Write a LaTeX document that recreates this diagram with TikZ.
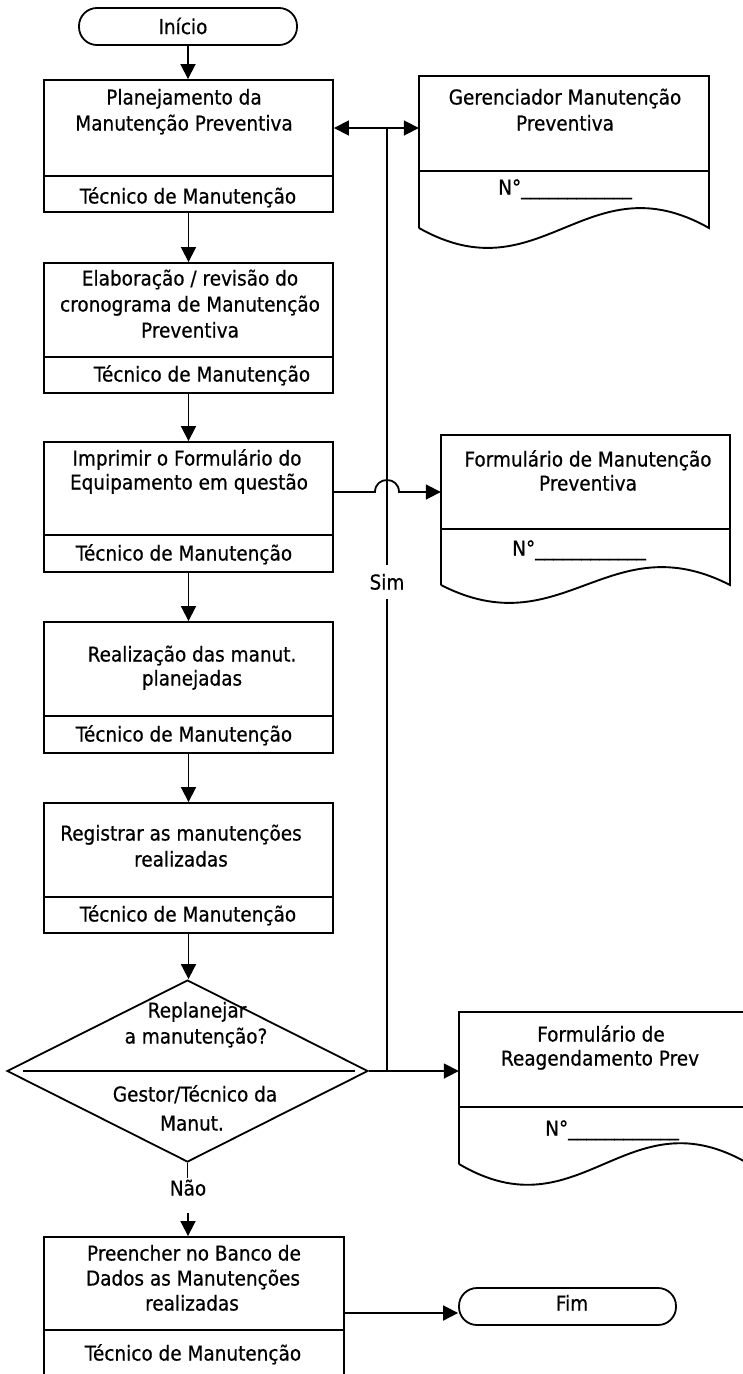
\documentclass[tikz,border=0pt]{standalone}
\usepackage{fontspec}
\setmainfont{DejaVu Sans}[FakeStretch=0.9,FakeBold=0.6]
\usetikzlibrary{arrows.meta,shapes.geometric}
\newcommand{\dgfont}{\fontsize{20.5pt}{25pt}\selectfont}
\tikzset{
  line/.style={line width=1.9pt},
  arr/.style={line width=1.8pt,-{Triangle[length=15pt,width=15pt]}},
  boxst/.style={draw,line width=1.9pt,rectangle,inner sep=0pt},
  ghost/.style={rectangle,inner sep=0pt},
  term/.style={draw,line width=1.8pt,rectangle,rounded corners=18pt,inner sep=0pt},
  lbl/.style={inner sep=0pt,text height=15pt,text depth=0pt,font=\dgfont},
}
\begin{document}
\begin{tikzpicture}[x=1pt,y=-1pt]
\useasboundingbox (0,0) rectangle (743,1374);
\fill[white] (0,0) rectangle (743,1374);

% start
\node[term,minimum width=218pt,minimum height=37pt] (ini) at (188,26.5) {};
\node[lbl] (tini) at (183,26.5) {Início};

% box 1
\node[boxst,minimum width=289pt,minimum height=132pt] (b1) at (188.5,146) {};
\draw[line] (44,176) -- (333,176);
\node[lbl] (t1a) at (184,97) {Planejamento da};
\node[lbl] (t1b) at (184,123) {Manutenção Preventiva};
\node[lbl] (t1c) at (188,196) {Técnico de Manutenção};

% box 2
\node[boxst,minimum width=289pt,minimum height=130pt] (b2) at (188.5,328) {};
\draw[line] (44,357) -- (333,357);
\node[lbl] (t2a) at (190,278) {Elaboração / revisão do};
\node[lbl] (t2b) at (190,304) {cronograma de Manutenção};
\node[lbl] (t2c) at (190,330) {Preventiva};
\node[lbl] (t2d) at (202,374) {Técnico de Manutenção};

% box 3
\node[boxst,minimum width=289pt,minimum height=130pt] (b3) at (188.5,507) {};
\draw[line] (44,535) -- (333,535);
\node[lbl] (t3a) at (187,458) {Imprimir o Formulário do};
\node[lbl] (t3b) at (189,482) {Equipamento em questão};
\node[lbl] (t3c) at (184,553) {Técnico de Manutenção};

% box 4
\node[boxst,minimum width=289pt,minimum height=131pt] (b4) at (188.5,687.5) {};
\draw[line] (44,716) -- (333,716);
\node[lbl] (t4a) at (192,654) {Realização das manut.};
\node[lbl] (t4b) at (192,678) {planejadas};
\node[lbl] (t4c) at (184,734) {Técnico de Manutenção};

% box 5
\node[boxst,minimum width=289pt,minimum height=130pt] (b5) at (188.5,868) {};
\draw[line] (44,897) -- (333,897);
\node[lbl] (t5a) at (181,833) {Registrar as manutenções};
\node[lbl] (t5b) at (181,859) {realizadas};
\node[lbl] (t5c) at (188,914) {Técnico de Manutenção};

% decision
\node[draw,diamond,line width=1.8pt,inner sep=0pt,minimum width=361pt,minimum height=182pt] (dia) at (187.5,1071) {};
\draw[line] (23,1071) -- (355,1071);
\node[lbl] (tda) at (197,1010) {Replanejar};
\node[lbl] (tdb) at (196,1036) {a manutenção?};
\node[lbl] (tdc) at (195,1094) {Gestor/Técnico da};
\node[lbl] (tdd) at (192,1123) {Manut.};

% box 6 (cut at bottom)
\node[boxst,minimum width=300pt,minimum height=173pt] (b6) at (194,1323.5) {};
\draw[line] (44,1330) -- (344,1330);
\node[lbl] (t6a) at (194,1253) {Preencher no Banco de};
\node[lbl] (t6b) at (193,1278) {Dados as Manutenções};
\node[lbl] (t6c) at (192,1303) {realizadas};
\node[lbl] (t6d) at (193,1353) {Técnico de Manutenção};

% end
\node[term,minimum width=217pt,minimum height=37pt] (fim) at (567.5,1306.5) {};
\node[lbl] (tfim) at (572,1303) {Fim};

% document 1
\node[ghost,minimum width=290pt,minimum height=152pt] (d1) at (564,152) {};
\draw[line] (419,228) -- (419,76) -- (709,76) -- (709,228) .. controls (587,159) and (541,297) .. (419,228);
\draw[line] (419,171) -- (709,171);
\node[lbl] (d1a) at (565,97) {Gerenciador Manutenção};
\node[lbl] (d1b) at (565,123) {Preventiva};
\node[lbl,anchor=west] (d1c) at (498,187) {N°\_\_\_\_\_\_\_\_\_\_\_\_};

% document 2
\node[ghost,minimum width=289pt,minimum height=150pt] (d2) at (585.5,510) {};
\draw[line] (441,585) -- (441,435) -- (730,435) -- (730,585) .. controls (609,523) and (562,647) .. (441,585);
\draw[line] (441,529) -- (730,529);
\node[lbl] (d2a) at (588,459) {Formulário de Manutenção};
\node[lbl] (d2b) at (588,483) {Preventiva};
\node[lbl,anchor=west] (d2c) at (512,548) {N°\_\_\_\_\_\_\_\_\_\_\_\_};

% document 3 (cut at right)
\node[ghost,minimum width=290pt,minimum height=152pt] (d3) at (604,1088) {};
\draw[line] (459,1164) -- (459,1012) -- (749,1012) -- (749,1164) .. controls (627,1092) and (581,1236) .. (459,1164);
\draw[line] (459,1107) -- (749,1107);
\node[lbl] (d3a) at (601,1034) {Formulário de};
\node[lbl] (d3b) at (600,1058) {Reagendamento Prev};
\node[lbl,anchor=west] (d3c) at (545,1128) {N°\_\_\_\_\_\_\_\_\_\_\_\_};

% labels on connectors
\node[lbl,inner ysep=9pt] (sim) at (387,582) {Sim};
\node[lbl] (nao) at (188,1188) {Não};

% main flow
\draw[arr] (ini.south) -- (ini.south |- b1.north);
\draw[arr] (b1.south) -- (b2.north);
\draw[arr] (b2.south) -- (b3.north);
\draw[arr] (b3.south) -- (b4.north);
\draw[arr] (b4.south) -- (b5.north);
\draw[arr] (b5.south) -- (b5.south |- dia.north);
\draw[line] (dia.south) -- (dia.south |- 0,1178);
\coordinate (nb) at (188,1213);
\draw[arr] (nb) -- (nb |- b6.north);

% loop back (Sim)
\coordinate (J1) at (387,1071);
\coordinate (J2) at (387,128);
\draw[line] (dia.east) -- (J1) -- (sim.south);
\draw[line] (sim.north) -- (J2);
\draw[arr] (J2) -- (J2 -| b1.east);
\draw[arr] (J2) -- (J2 -| d1.west);

% to documents
\coordinate (h1) at (375,492);
\coordinate (h2) at (399,492);
\draw[arr] (h1 -| b3.east) -- (h1) .. controls (375,476) and (399,476) .. (h2) -- (h2 -| d2.west);
\draw[arr] (dia.east) -- (dia.east -| d3.west);

% to end
\coordinate (fa) at (344,1313);
\draw[arr] (fa) -- (fa -| fim.west);
\end{tikzpicture}
\end{document}
